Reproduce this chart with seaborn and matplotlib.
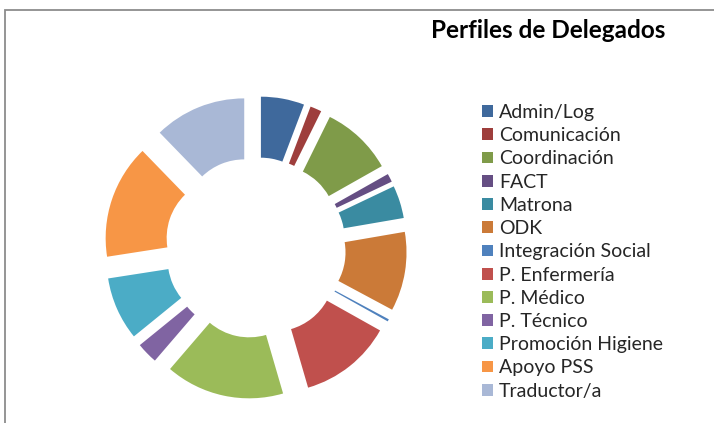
import matplotlib
matplotlib.use("Agg")
import matplotlib.pyplot as plt
import matplotlib.patches as mpatches
import seaborn as sns

sns.set_theme(style="white")
plt.rcParams['font.family'] = ['Lato', 'DejaVu Sans']

title = "Perfiles de Delegados"
categories = ["Admin/Log", "Comunicación", "Coordinación", "FACT", "Matrona", "ODK",
              "Integración Social", "P. Enfermería", "P. Médico", "P. Técnico",
              "Promoción Higiene", "Apoyo PSS", "Traductor/a"]
# share of delegates
values = [5.7, 1.5, 9.4, 1.1, 4.3, 10.4, 0.3, 12.2, 15.6, 2.8, 8.3, 15.0, 12.1]
colors = ["#3F699C", "#9E3E3C", "#7F9B49", "#654E83", "#3A8BA1", "#CB7A38",
          "#4F81BD", "#C0504D", "#9BBB59", "#8064A2", "#4BACC6", "#F79646", "#A9B8D6"]
palette = sns.color_palette(colors)

W, H = 714, 423
fig = plt.figure(figsize=(W / 100, H / 100), dpi=100)
ax = fig.add_axes([0, 0, 1, 1])

# every slice pushed out from the centre, like Excel's exploded doughnut
wedges, _ = ax.pie(
    values, colors=palette, startangle=90, counterclock=False,
    radius=121.4, center=(255.5, H - 247.6),
    explode=[30] * len(values),
    wedgeprops=dict(width=61, linewidth=0),
)
ax.set_xlim(0, W)
ax.set_ylim(0, H)
ax.set_aspect("equal")
ax.axis("off")

# chart frame (cut by the picture edges like the screenshot)
fig.add_artist(mpatches.Rectangle((5, -20), W + 20, H - 10 + 20, transform=None,
                                  fill=False, edgecolor="#8C8C8C", linewidth=1.3))

fig.text(548 / W, 1 - 31 / H, title, ha="center", va="center",
         fontsize=17.5, fontweight="bold", color="black")

handles = [mpatches.Patch(facecolor=c, edgecolor="none") for c in palette]
fig.legend(handles, categories, loc="upper left",
           bbox_to_anchor=(482 / W, 1 - 104 / H), frameon=False,
           fontsize=14, handlelength=0.56, handleheight=0.56,
           handletextpad=0.32, labelspacing=0.32, borderpad=0, borderaxespad=0)

fig.savefig("out.png", dpi=100)
